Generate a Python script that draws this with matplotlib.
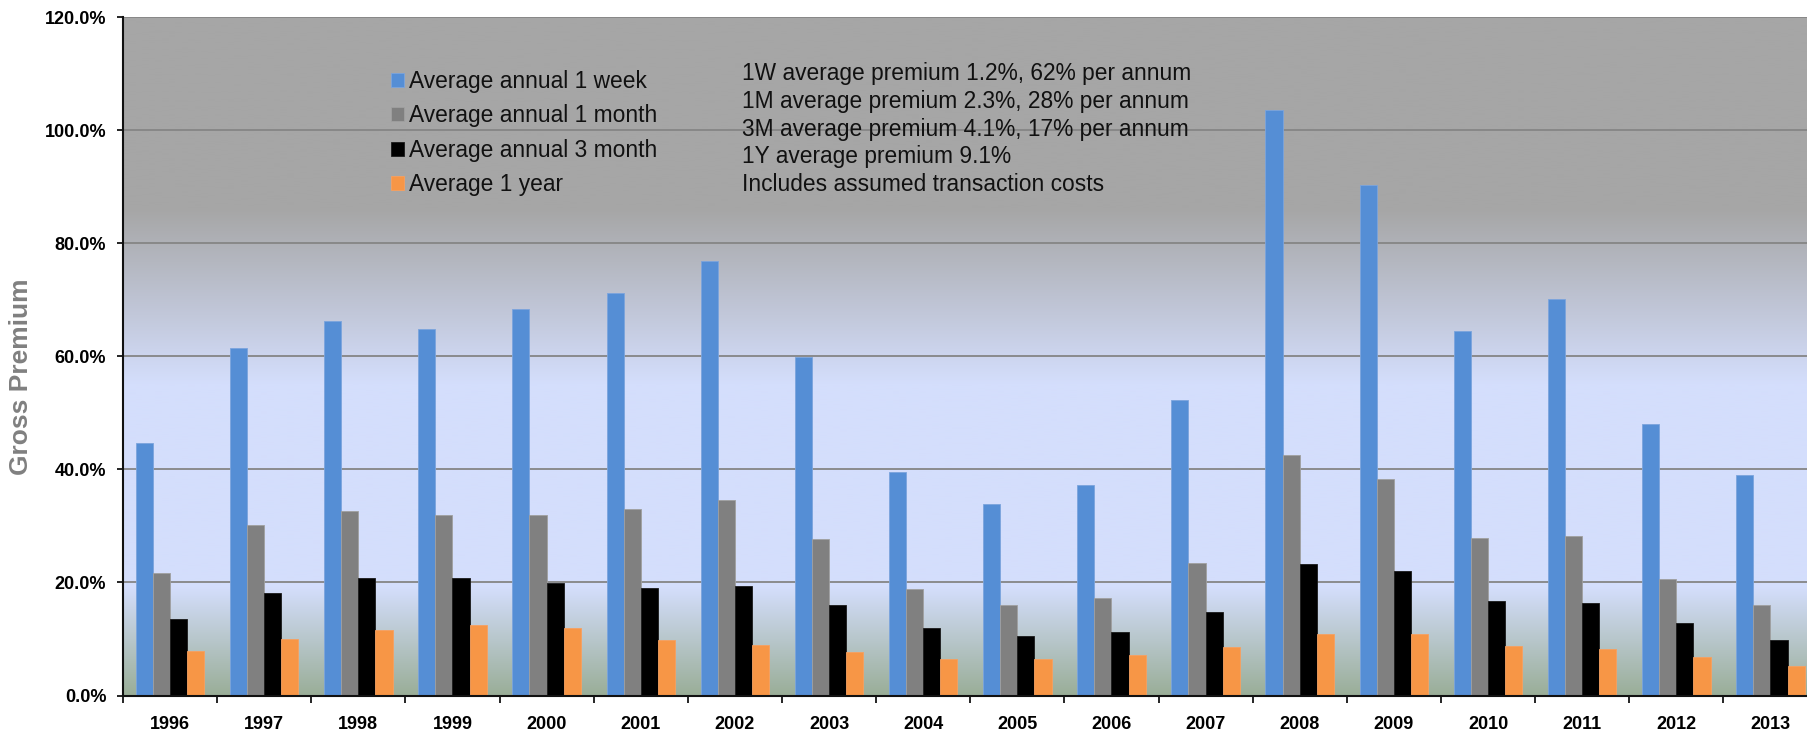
import numpy as np
import matplotlib
matplotlib.use("Agg")
import matplotlib.pyplot as plt
from matplotlib.ticker import PercentFormatter, FixedLocator
from matplotlib.colors import to_rgb

years = ["1996", "1997", "1998", "1999", "2000", "2001", "2002", "2003", "2004",
         "2005", "2006", "2007", "2008", "2009", "2010", "2011", "2012", "2013"]
week_1 = [44.6, 61.5, 66.2, 64.9, 68.3, 71.2, 76.8, 59.9, 39.6,
          33.8, 37.2, 52.2, 103.6, 90.4, 64.5, 70.1, 48.0, 39.1]
month_1 = [21.7, 30.1, 32.7, 31.9, 31.9, 33.0, 34.6, 27.7, 18.8,
           16.1, 17.2, 23.5, 42.5, 38.3, 27.8, 28.2, 20.7, 16.1]
month_3 = [13.5, 18.2, 20.8, 20.8, 19.9, 19.0, 19.3, 16.1, 11.9,
           10.6, 11.3, 14.8, 23.2, 22.1, 16.7, 16.4, 12.8, 9.8]
year_1 = [7.9, 10.0, 11.6, 12.4, 11.9, 9.8, 9.0, 7.7, 6.4,
          6.4, 7.1, 8.5, 10.9, 10.9, 8.8, 8.2, 6.9, 5.3]

series_names = ["Average annual 1 week", "Average annual 1 month",
                "Average annual 3 month", "Average 1 year"]
series_values = [week_1, month_1, month_3, year_1]
series_colors = ["#558ed5", "#808080", "#000000", "#f79646"]
edge_colors = ["#7ba4dd", "#a0a0a0", "#1a1a1a", "#f7a060"]

notes = ["1W average premium 1.2%, 62% per annum",
         "1M average premium 2.3%, 28% per annum",
         "3M average premium 4.1%, 17% per annum",
         "1Y average premium 9.1%",
         "Includes assumed transaction costs"]

plt.rcParams['font.family'] = ['Liberation Sans', 'DejaVu Sans']

W, H = 1808, 731
fig = plt.figure(figsize=(W / 100, H / 100), dpi=100)
ax_left = 123 / W
ax_bottom = (H - 695.5) / H
ax_top = 1 - 17.3 / H
ax = fig.add_axes([ax_left, ax_bottom, 1 - ax_left, ax_top - ax_bottom])

# background gradient (value %, colour)
stops = [(0, "#9aae98"), (19, "#d4defc"), (55, "#d4defc"), (86, "#a6a6a6"), (120, "#a6a6a6")]
yv = np.linspace(120, 0, 600)
sv = [s[0] for s in stops]
cols = np.array([to_rgb(s[1]) for s in stops])
grad = np.stack([np.interp(yv, sv, cols[:, k]) for k in range(3)], axis=-1)[:, None, :]
ax.imshow(grad, extent=(0, 1, 0, 1), transform=ax.transAxes, aspect="auto",
          zorder=0, interpolation="bilinear")

x = np.arange(len(years))
bw = 0.182
offsets = [-1.5, -0.5, 0.5, 1.5]
handles = []
for vals, name, col, ec, off in zip(series_values, series_names, series_colors, edge_colors, offsets):
    b = ax.bar(x + off * bw, vals, width=bw, color=col, edgecolor=ec, linewidth=0.6,
               label=name, zorder=2)
    handles.append(b)

cat_w = 94.14
ax.set_xlim(-0.5, -0.5 + (W - 123) / cat_w)
ax.set_ylim(0, 120)
ax.set_yticks(np.arange(0, 121, 20))
ax.yaxis.set_major_formatter(PercentFormatter(100, decimals=1))
ax.set_xticks(x)
ax.set_xticklabels(years)
ax.xaxis.set_minor_locator(FixedLocator(np.arange(-0.5, len(years) + 0.5, 1)))
ax.tick_params(axis="x", which="major", length=0, pad=15, labelsize=13)
ax.tick_params(axis="x", which="minor", length=5, width=1.2, direction="out")
ax.tick_params(axis="y", which="major", length=4, width=1.2, pad=8, labelsize=13)
for lab in ax.get_xticklabels() + ax.get_yticklabels():
    lab.set_fontweight("bold")

ax.set_axisbelow(True)
ax.grid(axis="y", color="#858585", linewidth=1.3, zorder=1)
for s in ["top", "right"]:
    ax.spines[s].set_visible(False)
for s in ["left", "bottom"]:
    ax.spines[s].set_linewidth(1.5)
    ax.spines[s].set_color("#111111")
    ax.spines[s].set_zorder(3)

ax.set_ylabel("Gross Premium", fontsize=19, fontweight="bold", color="#808080", va="center")
ax.yaxis.set_label_coords(21 / W, 1 - 376.5 / H, transform=fig.transFigure)

leg = ax.legend(handles=handles, loc="upper left",
                bbox_to_anchor=(391 / W, 1 - 70 / H), bbox_transform=fig.transFigure,
                frameon=False, fontsize=16.4, handlelength=0.57, handleheight=0.57,
                handletextpad=0.23, labelspacing=0.5, borderpad=0, borderaxespad=0)
for t in leg.get_texts():
    t.set_color("#111111")

for i, line in enumerate(notes):
    fig.text(741.7 / W, 1 - (73.3 + i * 27.9) / H, line, fontsize=16.4,
             color="#111111", va="center", ha="left")

fig.savefig("out.png", dpi=100)
